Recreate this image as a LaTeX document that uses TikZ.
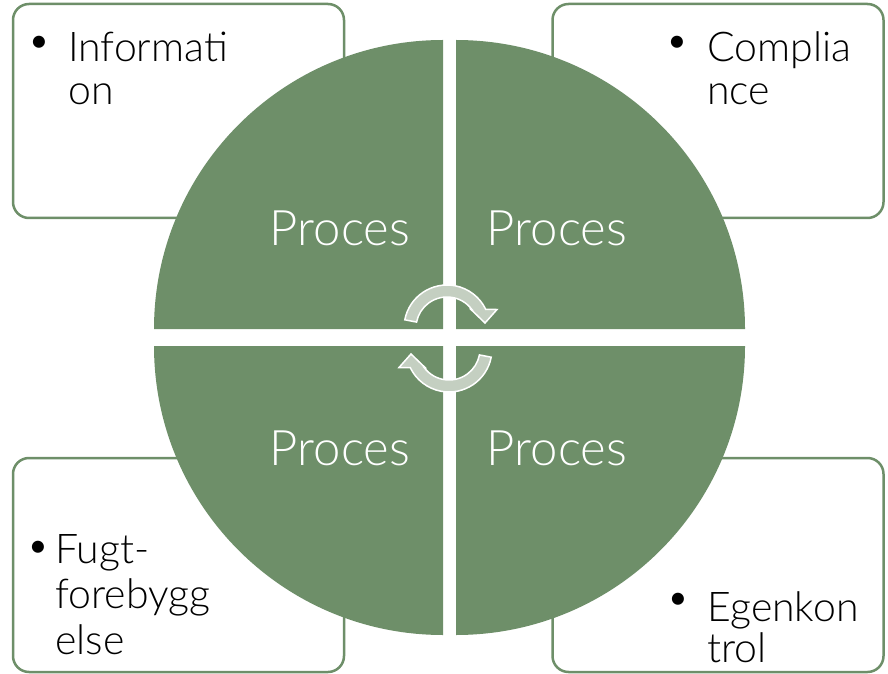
\documentclass[tikz,border=0pt]{standalone}
\usepackage{fontspec}
\setmainfont{Lato Light}
\usepackage{tikz}
\usetikzlibrary{arrows.meta, shapes}
\definecolor{procgreen}{HTML}{6E8F69}
\definecolor{arrowgray}{HTML}{C4CFC1}

\begin{document}
\begin{tikzpicture}[x=1pt,y=1pt]
\useasboundingbox (0,0) rectangle (888,673);
\begin{scope}[every node/.style={draw=procgreen, line width=2.5pt, rounded corners=16pt,
              fill=white, inner sep=0pt, minimum width=331pt, minimum height=214pt}]
  \node (info) at (178.5,562) {};
    \node (compl) at (718,562) {};
    \node (fugt) at (178.5,108) {};
    \node (egen) at (718,108) {};
\end{scope}

\begin{scope}[every node/.style={inner sep=0pt, font=\fontsize{41}{43}\selectfont}]
    \node (binfo) at (39,628) {\textbullet};
    \node[anchor=base west, align=left] (tinfo) at (68,568) {Informati\\on};
    \node (bcompl) at (677,628) {\textbullet};
    \node[anchor=base west, align=left] (tcompl) at (707,568) {Complia\\nce};
    \node (bfugt) at (38,123) {\textbullet};
    \node[anchor=base west, align=left, font=\fontsize{41}{45.5}\selectfont] (tfugt) at (55,19) {Fugt-\\forebygg\\else};
    \node (begen) at (678,71) {\textbullet};
    \node[anchor=base west, align=left, font=\fontsize{41}{41}\selectfont] (tegen) at (707,11) {Egenkon\\trol};
\end{scope}

\fill[procgreen] (443,344) -- (154,344) arc[start angle=180, end angle=90, radius=289] -- cycle;
\fill[procgreen] (456,344) -- (456,633) arc[start angle=90, end angle=0, radius=289] -- cycle;
\fill[procgreen] (443,327) -- (443,38) arc[start angle=270, end angle=180, radius=289] -- cycle;
\fill[procgreen] (456,327) -- (745,327) arc[start angle=0, end angle=-90, radius=289] -- cycle;

\begin{scope}[every node/.style={text=white, inner sep=0pt, font=\fontsize{49}{52}\selectfont}]
    \node (p1) at (340,445) {Proces};
    \node (p2) at (557,445) {Proces};
    \node (p3) at (340,225) {Proces};
    \node (p4) at (557,225) {Proces};
\end{scope}

\foreach \r in {0,180}{
  \begin{scope}[rotate around={\r:(448,334.5)}, shift={(447,345)}]
    \filldraw[fill=arrowgray, draw=white, line width=1.5pt]
      (169:43) arc[start angle=169, end angle=25.5, radius=43] -- (50,18.5) -- (38,5)
      -- (24,18.5) -- (36.6:31) arc[start angle=36.6, end angle=169, radius=31] -- cycle;
  \end{scope}
}
\end{tikzpicture}
\end{document}
